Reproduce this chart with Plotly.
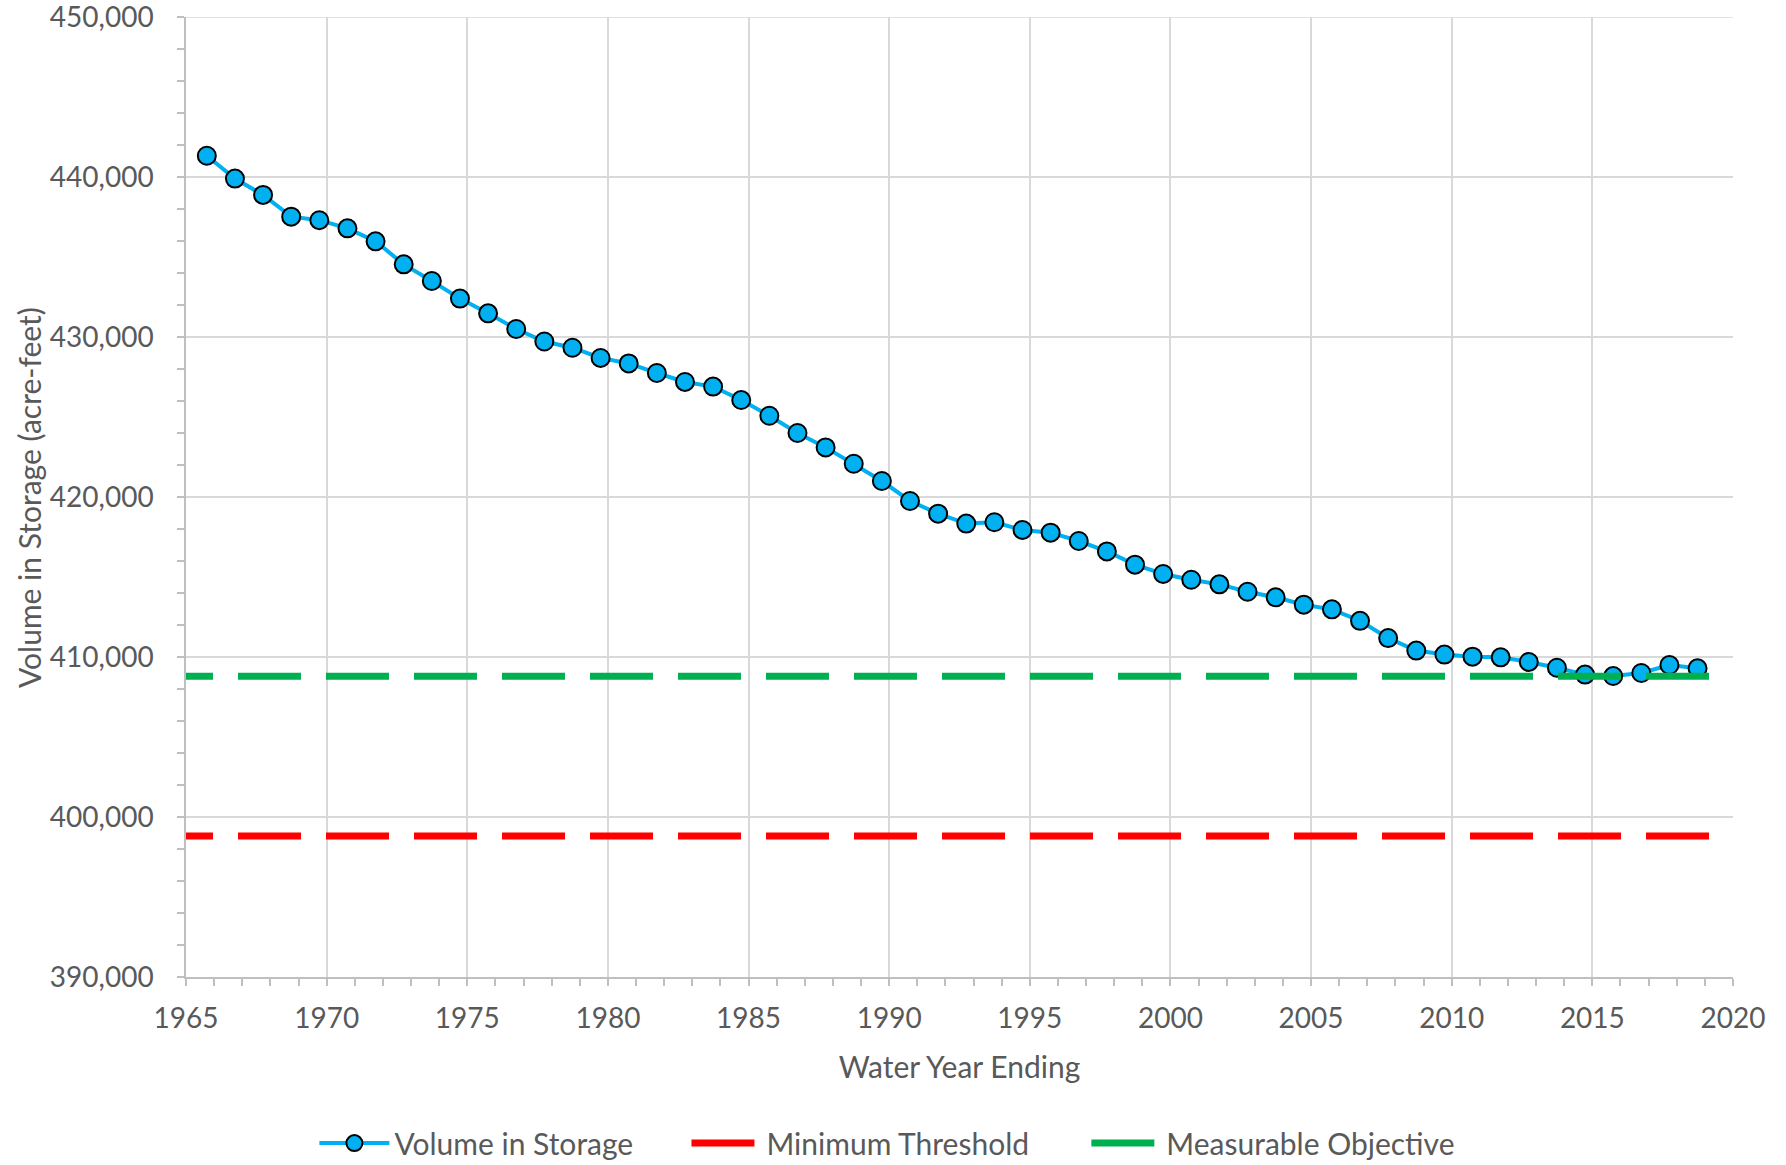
import plotly.graph_objects as go

# storage values (acre-feet), one per water year
years = list(range(1966, 2020))
storage = [
    441330, 439900, 438880, 437520, 437300, 436790, 435980, 434540, 433500, 432400,
    431480, 430500, 429720, 429330, 428690, 428350, 427750, 427190, 426900, 426060,
    425080, 424000, 423100, 422080, 421000, 419750, 418960, 418340, 418420, 417940,
    417770, 417250, 416600, 415770, 415190, 414830, 414540, 414080, 413730, 413270,
    412980, 412260, 411180, 410400, 410150, 410020, 409980, 409690, 409330, 408900,
    408810, 409000, 409500, 409290,
]
# points sit at the end of each water year on the axis
x_pos = [y - 0.26 for y in years]

thresh_x = [1963.72, 2019.2]
min_threshold = [398810, 398810]
meas_objective = [408790, 408790]

FONT = "Lato"
GREY = "#595959"
AXIS = "#BFBFBF"
GRID = "#D9D9D9"

fig = go.Figure()

fig.add_trace(go.Scatter(
    x=x_pos, y=storage,
    mode="lines+markers",
    line=dict(color="#00B0F0", width=4),
    marker=dict(size=18, color="#00B0F0", line=dict(color="black", width=2)),
    name="Volume in Storage",
    legend="legend",
))

fig.add_trace(go.Scatter(
    x=thresh_x, y=min_threshold,
    mode="lines",
    line=dict(color="#FF0000", width=7, dash="63px,25px"),
    name="Minimum Threshold",
    legend="legend2",
))

fig.add_trace(go.Scatter(
    x=thresh_x, y=meas_objective,
    mode="lines",
    line=dict(color="#00B050", width=7, dash="63px,25px"),
    name="Measurable Objective",
    legend="legend3",
))


def legend_box(x, item_w):
    return dict(
        orientation="h",
        x=x, xanchor="left",
        y=-0.173, yanchor="middle",
        font=dict(size=30, color=GREY),
        itemwidth=item_w,
        bgcolor="rgba(0,0,0,0)",
    )


fig.update_layout(
    width=1786, height=1165,
    margin=dict(l=186, r=53, t=17, b=188, autoexpand=False),
    paper_bgcolor="white",
    plot_bgcolor="white",
    font=dict(family=FONT, size=28, color=GREY),
    showlegend=True,
    legend=legend_box(0.083, 70),
    legend2=legend_box(0.3235, 70),
    legend3=legend_box(0.582, 70),
    xaxis=dict(
        range=[1965, 2020],
        dtick=5,
        tick0=1965,
        automargin=False,
        showgrid=True, gridcolor=GRID, gridwidth=1.5,
        showline=True, linecolor=AXIS, linewidth=1.5,
        ticks="outside", ticklen=7, tickcolor=AXIS, tickwidth=1.5,
        minor=dict(dtick=1, ticks="outside", ticklen=7, tickcolor=AXIS,
                   tickwidth=1.5, showgrid=False),
        tickfont=dict(size=28, color=GREY),
        ticklabelstandoff=9,
        ticklabeloverflow="allow",
        title=dict(text="Water Year Ending", font=dict(size=30, color=GREY), standoff=24),
        zeroline=False,
    ),
    yaxis=dict(
        range=[390000, 450000],
        dtick=10000,
        tick0=390000,
        tickformat=",d",
        automargin=False,
        showgrid=True, gridcolor=GRID, gridwidth=1.5,
        showline=True, linecolor=AXIS, linewidth=1.5,
        ticks="outside", ticklen=7, tickcolor=AXIS, tickwidth=1.5,
        minor=dict(dtick=2000, ticks="outside", ticklen=7, tickcolor=AXIS,
                   tickwidth=1.5, showgrid=False),
        tickfont=dict(size=28, color=GREY),
        ticklabelstandoff=18,
        ticklabeloverflow="allow",
        zeroline=False,
    ),
)

# y title as an annotation so it can sit exactly where the reference has it
fig.add_annotation(
    text="Volume in Storage (acre-feet)",
    xref="paper", yref="paper", x=-0.1015, y=0.5,
    xanchor="center", yanchor="middle",
    textangle=-90, showarrow=False,
    font=dict(size=30, color=GREY, family=FONT),
)

# plotly drops the grid line that sits on the top edge, draw it back
fig.add_shape(type="line", xref="paper", x0=0, x1=1, yref="y", y0=450000, y1=450000,
              line=dict(color=GRID, width=1.5), layer="below")

# remove the default 8px body margin so the figure fills the window
fig.write_html("out.html", config={"displayModeBar": False},
               post_script="document.body.style.margin = '0';")
